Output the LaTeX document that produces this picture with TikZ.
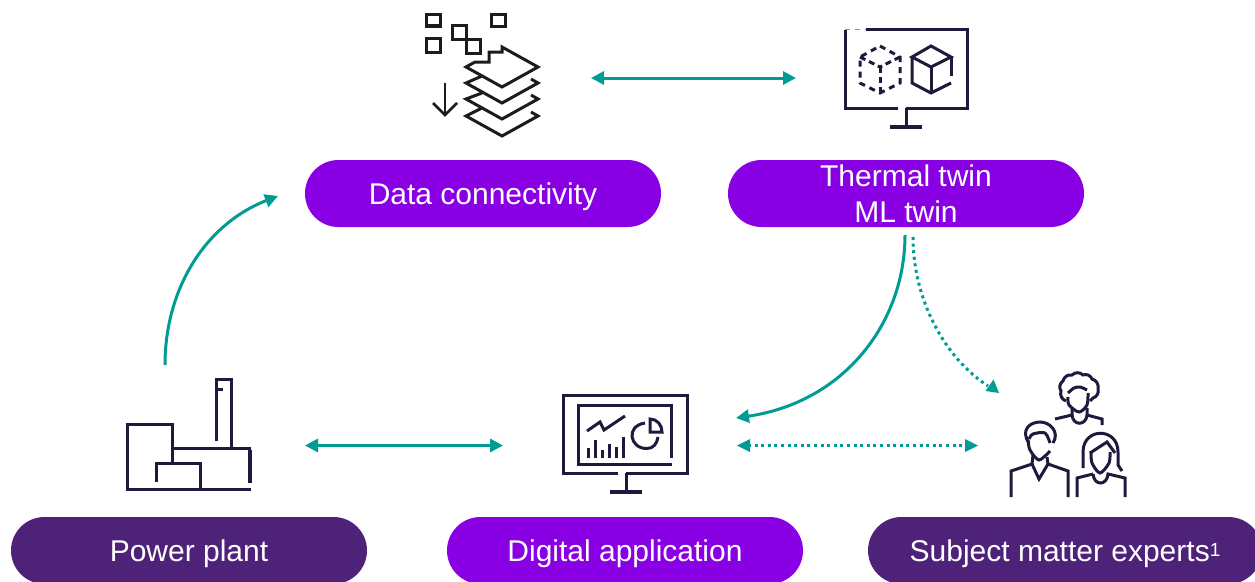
\documentclass[tikz,border=0pt]{standalone}
\usepackage{fontspec}
\setmainfont{Liberation Sans}
\usetikzlibrary{arrows.meta,shapes.misc}

\definecolor{pillbright}{HTML}{8A00E5}
\definecolor{pilldark}{HTML}{4E2278}
\definecolor{linkteal}{HTML}{009B93}
\definecolor{iconnavy}{HTML}{1D1A3D}
\definecolor{iconblack}{HTML}{1C1C1C}

\tikzset{
  pill/.style={rounded rectangle, minimum width=356pt, minimum height=67pt, inner sep=0pt,
    text=white, align=center, font=\fontsize{30}{36.5}\selectfont},
  oneline/.style={text height=28pt, text depth=7pt},
  link/.style={draw=linkteal, line width=3pt, -{Triangle[length=13pt,width=13pt]}},
  linkboth/.style={link, {Triangle[length=13pt,width=13pt]}-{Triangle[length=13pt,width=13pt]}},
  dotlink/.style={line width=3pt, draw=linkteal, dash pattern=on 3pt off 3.6pt},
  icon/.style={draw=iconnavy, line width=3pt},
  iconthick/.style={draw=iconnavy, line width=4pt},
  layer/.style={draw=iconblack, line width=3pt, miter limit=4},
}

\begin{document}
\begin{tikzpicture}[x=1pt, y=-1pt]

\def\yt{193.5}; % upper pills
\def\yb{550.5}; % lower pills
\def\yat{78}; % top link
\def\yab{445.5}; % lower links

\useasboundingbox (0,0) rectangle (1255,581);
\clip (0,0) rectangle (1255,581);

% pills
\node[pill, oneline, fill=pillbright] (data) at (483, \yt) {Data connectivity};
\node[pill, fill=pillbright] (twin) at (906, \yt) {Thermal twin\\ML twin};
\node[pill, oneline, fill=pilldark] (plant) at (189, \yb) {Power plant};
\node[pill, oneline, fill=pillbright] (digital) at (625, \yb) {Digital application};
\node[pill, oneline, fill=pilldark, minimum width=394pt] (experts) at (1065, \yb) {Subject matter experts\raisebox{5pt}{\fontsize{19}{19}\selectfont 1}};

% link ends
\coordinate (datar) at (591, \yat);
\coordinate (twinl) at (796, \yat);
\coordinate (plantr) at (305, \yab);
\coordinate (digitall) at (503, \yab);
\coordinate (digitalr) at (737, \yab);
\coordinate (expertsl) at (978, \yab);
\coordinate (plantup) at (165, 365);
\coordinate (datain) at (278, 196);
\coordinate (twinout) at (905, 235);
\coordinate (digitalin) at (736, 418);
\coordinate (twindot) at (913, 237);
\coordinate (expertsin) at (999, 393);

% links
\draw[linkboth] (datar) -- (twinl);
\draw[linkboth] (plantr) -- (digitall);
\draw[link] (plantup) .. controls (165,288) and (206,224) .. (datain);
\draw[link] (twinout) .. controls (905,322) and (845,402) .. (digitalin);
\draw[dotlink] (twindot) .. controls (913,300) and (945,358) .. (988,386);
\draw[dotlink] (748,\yab) -- (968,\yab);
\fill[linkteal] (expertsin) -- (985.5,391) -- (993.5,379.5) -- cycle;
\fill[linkteal] (digitalr) -- (750,439) -- (750,452) -- cycle;
\fill[linkteal] (expertsl) -- (965,439) -- (965,452) -- cycle;

% data icon
\draw[layer, line width=3.5pt] (426.5,14.5) rectangle (440.5,26);
\draw[layer, line width=3.5pt] (426.5,38.5) rectangle (440.5,52.5);
\draw[layer] (452,25) rectangle (466,39);
\draw[layer] (466,39) rectangle (480,53);
\draw[layer] (491,14) rectangle (505,26);
\draw[layer] (466,67) -- (475,62) -- (489,62) -- (489,52) -- (502,52) -- (502,47) -- (538,67) -- (502,87) -- cycle;
\draw[layer] (482,76) -- (466,83) -- (502,103) -- (538,83) -- (531,79);
\draw[layer] (482,93) -- (466,99) -- (502,119) -- (538,99) -- (531,95);
\draw[layer] (482,108) -- (466,116) -- (502,136) -- (538,116) -- (531,112);
\draw[layer, line width=2.5pt] (445,83) -- (445,114);
\draw[layer, line width=2.5pt] (433,103) -- (445,115) -- (457,103);

% twin icon
\draw[icon] (866,29) -- (967,29) -- (967,108) -- (906,108);
\draw[icon] (898,108) -- (845,108) -- (845,30);
\draw[draw=iconnavy!50, line width=1pt, dash pattern=on 5pt off 5pt] (845,29) -- (866,29);
\draw[icon] (906,108) -- (906,127);
\draw[iconthick] (890,127) -- (922,127);
\draw[icon] (931,46) -- (951,57) -- (931,67) -- (912,57) -- cycle;
\draw[icon] (951,57) -- (951,76);
\draw[icon] (912,57) -- (912,83) -- (931,93) -- (951,83);
\draw[icon] (931,67) -- (931,93);
\draw[icon, dash pattern=on 6pt off 5pt] (880,46) -- (900,57) -- (900,83) -- (880,93) -- (860,83) -- (860,57) -- cycle;
\draw[icon, dash pattern=on 6pt off 4pt] (860,57) -- (880,67);
\draw[icon, dash pattern=on 6pt off 4pt] (900,57) -- (880,67);
\draw[icon, dash pattern=on 6pt off 4pt] (880,67) -- (880,93);

% plant icon
\draw[icon] (172,463) -- (172,424) -- (127,424) -- (127,489) -- (251,489);
\draw[icon] (156,482) -- (156,463) -- (200,463) -- (200,489);
\draw[icon] (172,448) -- (251,448);
\draw[iconthick] (250,450) -- (250,483);
\draw[icon] (216,441) -- (216,379) -- (231,379) -- (231,448);
\draw[icon] (216,389) -- (223,389);

% digital icon
\draw[icon] (618,473) -- (563,473) -- (563,395) -- (687,395) -- (687,473) -- (626,473);
\draw[icon] (626,473) -- (626,492);
\draw[iconthick] (610,492) -- (642,492);
\draw[icon] (671,458) -- (671,405) -- (578,405) -- (578,464) -- (672,464);
\draw[icon] (587,431) -- (600,422) -- (604,430) -- (625,416);
\foreach \xbar/\ybar in {588/448, 595/440, 602/450, 609/444, 616/447, 623/437}
  \draw[icon] (\xbar,458) -- (\xbar,\ybar);
\draw[icon] (650,419) .. controls (657,419) and (662,425) .. (662,432) -- (650,432) -- cycle;
\draw[icon] (645,423) .. controls (625,426) and (630,449) .. (647,448.5) .. controls (653,448.5) and (657,444) .. (658,437);

% experts icon
\draw[icon] (1066,401) to[bend left=45] (1061,391) to[bend left=45] (1063,381) to[bend left=45] (1072,375)
  to[bend left=45] (1083,375) to[bend left=45] (1092,379) to[bend left=45] (1098,389) to[bend left=45] (1093,398) -- (1090,401);
\draw[icon] plot[smooth] coordinates {(1068,393) (1074,388) (1080,387) (1087,390)};
\draw[icon] plot[smooth] coordinates {(1068,397) (1069,405) (1079,412) (1087,405) (1088,393)};
\draw[icon] (1055,419) -- (1072,415) -- (1072,408);
\draw[icon] (1072,415) .. controls (1073,426) and (1086,426) .. (1087,415) -- (1087,408);
\draw[icon] (1087,415) -- (1102,419) -- (1102,425);
\draw[icon] (1029,443) .. controls (1020,430) and (1030,422) .. (1040,422) .. controls (1050,422) and (1060,432) .. (1053,443);
\draw[icon] plot[smooth] coordinates {(1029,439) (1033,434) (1045,433) (1050,443)};
\draw[icon] plot[smooth] coordinates {(1028,440) (1030,450) (1039,460) (1050,451)};
\draw[icon] (1011,497) -- (1011,471) -- (1032,464) -- (1039,479) -- (1048,464) -- (1068,471) -- (1068,497);
\draw[icon] (1033,455) -- (1032,464);
\draw[icon] (1047,457) -- (1048,464);
\draw[icon] (1083,468) -- (1083,452) .. controls (1083,427) and (1118,427) .. (1118,452) -- (1118,465) -- (1122,471);
\draw[icon] (1090,453) -- (1107,442) -- (1115,453);
\draw[icon] plot[smooth] coordinates {(1091,452) (1092,463) (1100,473) (1109,463) (1110,452)};
\draw[icon] (1077,497) -- (1077,478) -- (1093,474);
\draw[icon] (1093,474) .. controls (1094,486) and (1107,486) .. (1108,474) -- (1125,478) -- (1125,497);

\end{tikzpicture}
\end{document}
